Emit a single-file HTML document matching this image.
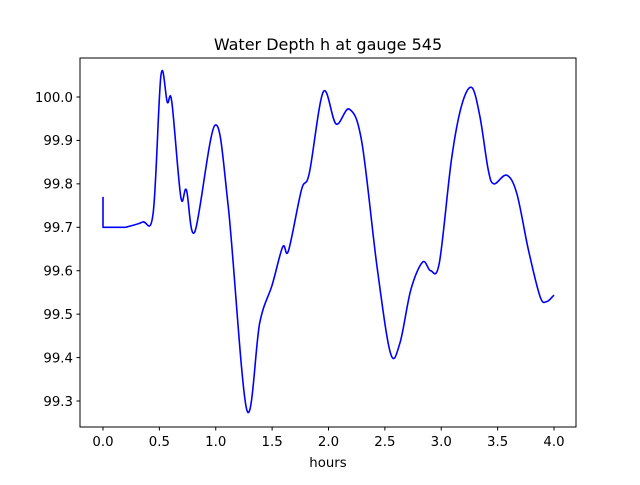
<!DOCTYPE html>
<html><head><meta charset="utf-8"><style>
html,body{margin:0;padding:0;background:#fff}
svg text{font-family:"DejaVu Sans","Liberation Sans",sans-serif;fill:#000}
</style></head><body>
<svg id="chart" width="640" height="480" viewBox="0 0 640 480" xmlns="http://www.w3.org/2000/svg">
<rect width="640" height="480" fill="#fff"/>
<text x="328" y="50" font-size="16" text-anchor="middle">Water Depth h at gauge 545</text>
<g id="plot"></g>
<rect x="80" y="58" width="496" height="369" fill="none" stroke="#000" stroke-width="1"/>
<text x="328" y="467" font-size="13.3" text-anchor="middle">hours</text>
</svg>
<script>
const times = [0,0,0.2,0.35,0.445,0.514,0.57,0.61,0.69,0.74,0.815,0.993,1.11,1.275,1.39,1.50,1.594,1.645,1.76,1.83,1.954,2.067,2.185,2.295,2.43,2.55,2.634,2.73,2.835,2.906,2.983,3.09,3.18,3.27,3.343,3.417,3.468,3.58,3.67,3.773,3.877,3.936,4.0];
const depth = [99.77,99.70,99.70,99.712,99.733,100.05,99.988,99.989,99.77,99.786,99.69,99.935,99.75,99.28,99.48,99.567,99.655,99.646,99.786,99.825,100.012,99.938,99.972,99.897,99.61,99.41,99.434,99.556,99.62,99.60,99.618,99.855,99.98,100.022,99.955,99.832,99.80,99.82,99.778,99.648,99.54,99.529,99.544];
const xTicks = [0.0,0.5,1.0,1.5,2.0,2.5,3.0,3.5,4.0];
const yTicks = [99.3,99.4,99.5,99.6,99.7,99.8,99.9,100.0];

const xs = t => 103 + t*112.75;
const ys = v => 97 + (100.0 - v)*434.3;
const NS='http://www.w3.org/2000/svg';
const g = document.getElementById('plot');
function mk(tag, attrs){const e=document.createElementNS(NS,tag);for(const k in attrs)e.setAttribute(k,attrs[k]);return e;}

xTicks.forEach(t=>{
  const l=mk('line',{x1:xs(t),x2:xs(t),y1:427,y2:430.5,stroke:'#000','stroke-width':1});
  
  
  g.appendChild(l);
  const tx=mk('text',{x:xs(t),y:446,'font-size':13.3,'text-anchor':'middle'});
  
  
  tx.textContent=t.toFixed(1);g.appendChild(tx);
});
yTicks.forEach(v=>{
  const l=mk('line',{x1:76.5,x2:80,y1:ys(v),y2:ys(v),stroke:'#000','stroke-width':1});
  
  
  g.appendChild(l);
  const tx=mk('text',{x:73,y:ys(v)+4.8,'font-size':13.3,'text-anchor':'end'});
  
  
  tx.textContent=v.toFixed(1);g.appendChild(tx);
});

const P = times.map((t,i)=>[xs(t),ys(depth[i])]);
let d = `M${P[0][0]},${P[0][1]} L${P[1][0]},${P[1][1]} L${P[2][0]},${P[2][1]}`;
for(let i=2;i<P.length-1;i++){
  const p0=P[Math.max(i-1,2)],p1=P[i],p2=P[i+1],p3=P[Math.min(i+2,P.length-1)];
  const c1=[p1[0]+(p2[0]-p0[0])/6,p1[1]+(p2[1]-p0[1])/6];
  const c2=[p2[0]-(p3[0]-p1[0])/6,p2[1]-(p3[1]-p1[1])/6];
  d+=` C${c1[0]},${c1[1]} ${c2[0]},${c2[1]} ${p2[0]},${p2[1]}`;
}
const line=mk('path',{d:d,fill:'none',stroke:'#0000ff','stroke-width':1.6,'stroke-linejoin':'round'});


g.appendChild(line);
</script>
</body></html>
